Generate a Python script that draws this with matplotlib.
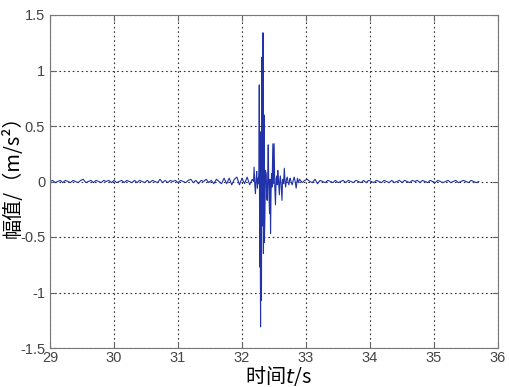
import matplotlib.pyplot as plt
import numpy as np
from matplotlib.ticker import FormatStrFormatter

plt.rcParams['font.family'] = ['Liberation Sans', 'Noto Sans CJK SC', 'DejaVu Sans']
plt.rcParams['axes.unicode_minus'] = False

# quiet part before the event, one sample every 0.04 s from 29.00 s
pre_start = 29.00
pre_amp = [0.00, 0.01, -0.01, 0.00, 0.01, -0.01, 0.01, 0.00, -0.01, 0.01,
           0.00, -0.01, 0.01, 0.02, -0.01, 0.00, 0.01, -0.01, 0.01, 0.00,
           -0.01, 0.01, 0.00, 0.01, -0.01, 0.01, -0.01, 0.00, 0.01, -0.01,
           0.01, 0.00, -0.01, 0.01, -0.01, 0.01, 0.00, -0.01, 0.01, -0.01,
           0.01, 0.00, -0.01, 0.02, -0.01, 0.01, -0.01, 0.01, 0.00, 0.01,
           -0.01, 0.01, 0.00, -0.01, 0.01, 0.02, -0.01, 0.01, -0.02, 0.01,
           0.00, 0.02, -0.01, 0.01, -0.02, 0.02, 0.00, -0.02, 0.03, -0.02,
           0.03, -0.03, 0.02, 0.04, -0.03, 0.03, -0.02, 0.04, -0.03, 0.02]

# the burst itself
burst_t = [32.180, 32.189, 32.200, 32.210, 32.220, 32.230, 32.241, 32.250,
           32.258, 32.265, 32.270, 32.276, 32.283, 32.290, 32.297, 32.304,
           32.312, 32.320, 32.328, 32.335, 32.343, 32.350, 32.358, 32.366,
           32.379, 32.386, 32.394, 32.402, 32.410, 32.418, 32.430, 32.438,
           32.446, 32.454, 32.461, 32.470, 32.482, 32.490, 32.502, 32.512,
           32.523, 32.533, 32.543, 32.551, 32.559, 32.570, 32.584, 32.592,
           32.600, 32.612, 32.625, 32.633, 32.641, 32.650, 32.661, 32.672,
           32.682, 32.695, 32.707, 32.720, 32.733, 32.745, 32.753, 32.770,
           32.784, 32.800, 32.815, 32.830, 32.846, 32.866, 32.880]
burst_amp = [0.00, 0.13, -0.03, -0.11, 0.02, 0.09, -0.06, 0.03,
             -0.02, 0.10, 0.87, -0.77, -0.10, -1.31, 0.45, -1.07,
             1.12, -0.40, 1.34, -0.65, 0.60, -0.55, -0.32, 0.10,
             0.07, -0.15, -0.17, 0.05, 0.33, -0.05, -0.29, 0.02,
             -0.47, -0.10, 0.07, -0.05, 0.34, -0.02, 0.34, -0.05,
             -0.21, 0.02, 0.05, -0.03, 0.10, 0.01, -0.12, 0.02,
             0.05, -0.04, -0.17, 0.00, 0.02, -0.02, 0.12, 0.00,
             -0.05, 0.02, 0.04, -0.01, -0.03, 0.02, 0.03, -0.01,
             -0.03, 0.01, 0.04, 0.00, -0.06, 0.03, -0.01]

# quiet part after the event, one sample every 0.04 s from 32.90 s
post_start = 32.90
post_amp = [0.02, -0.01, 0.01, 0.02, 0.00, -0.01, 0.02, -0.02, 0.01, 0.00,
            -0.01, 0.01, 0.00, -0.01, 0.01, -0.01, 0.00, 0.01, -0.01, 0.01,
            0.00, -0.01, 0.01, 0.00, -0.01, 0.01, -0.01, 0.01, 0.00, -0.01,
            0.01, 0.00, -0.01, 0.01, 0.00, -0.01, 0.01, -0.01, 0.00, 0.01,
            -0.01, 0.01, 0.00, -0.01, 0.01, 0.00, 0.01, -0.01, 0.01, 0.00,
            -0.01, 0.01, 0.00, -0.01, 0.01, 0.00, -0.01, 0.00, 0.01, -0.01,
            0.00, 0.01, -0.01, 0.00, 0.01, 0.00, -0.01, 0.01, 0.00, -0.01,
            0.00]

xticks = [29, 30, 31, 32, 33, 34, 35, 36]
yticks = [-1.5, -1, -0.5, 0, 0.5, 1, 1.5]

pre_t = pre_start + 0.04 * np.arange(len(pre_amp))
post_t = post_start + 0.04 * np.arange(len(post_amp))
t = np.concatenate([pre_t, burst_t, post_t])
a = np.concatenate([pre_amp, burst_amp, post_amp])

fig = plt.figure(figsize=(5.1, 3.87), dpi=100)
ax = fig.add_axes([50 / 510, 1 - 348 / 387, 448 / 510, 333 / 387])
ax.plot(t, a, color='#2233aa', linewidth=0.8)

ax.set_xlim(29, 36)
ax.set_ylim(-1.5, 1.5)
ax.set_xticks(xticks)
ax.set_yticks(yticks)
ax.yaxis.set_major_formatter(FormatStrFormatter('%g'))
ax.grid(True, linestyle=(0, (1.5, 2.5)), color='#333333', linewidth=0.8)
ax.tick_params(direction='in', labelsize=10.5, labelcolor='#444444',
               colors='#666666', top=True, right=True, length=4)
ax.tick_params(axis='x', pad=2)
for s in ax.spines.values():
    s.set_color('#777777')

cjk = ['Noto Sans CJK SC', 'DejaVu Sans']
fig.text(278 / 510, 1 - 376 / 387, '时间$t$/s', fontsize=14.5, family=cjk,
         ha='center', va='center')
fig.text(13 / 510, 1 - 172 / 387, '幅值/（m/s²）', fontsize=14.5, family=cjk,
         ha='center', va='center', rotation=90)

fig.savefig('out.png', dpi=100)
